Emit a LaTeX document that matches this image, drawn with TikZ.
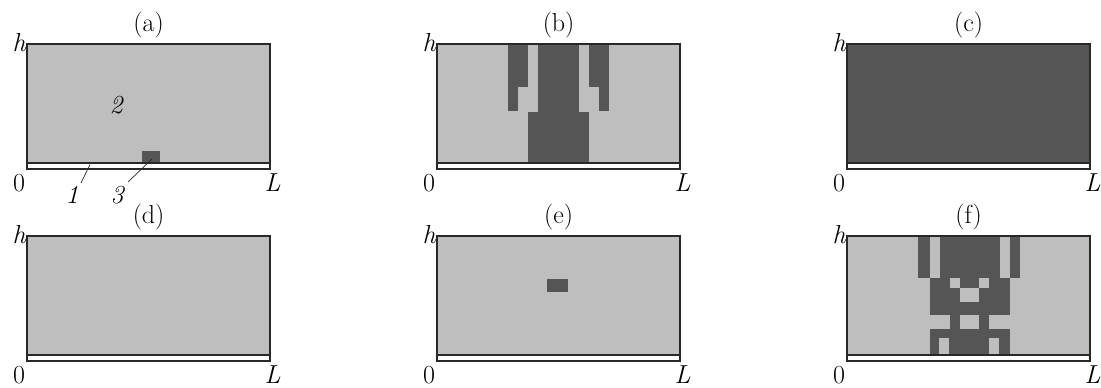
\documentclass[tikz,border=0pt]{standalone}
\usepackage{fontspec}
\usepackage{tikz}
\definecolor{lg}{RGB}{190,190,190}
\definecolor{dg}{RGB}{85,85,85}
\definecolor{fr}{RGB}{40,40,40}
\tikzset{
  frame/.style={draw=fr,line width=1.8pt},
  dark/.style={fill=dg},
  light/.style={fill=lg},
  lbl/.style={inner sep=0pt,anchor=base},
  leader/.style={draw=fr,line width=0.7pt}
}
\newcommand\PnlFrame[2]{%
  \fill[white] (0,118.7) rectangle (242.7,124.7);
  \draw[frame] (0,0) rectangle (242.7,124.7);
  \draw[frame] (0,118.7) -- (242.7,118.7);
  \node[lbl] (t#1) at (121.3,-13) {(#2)};
  \node[inner sep=0pt,anchor=base east] (h#1) at (-1.5,7) {\itshape h};
  \node[lbl] (z#1) at (-8.3,147.5) {0};
  \node[lbl] (L#1) at (245.2,147.5) {\itshape L};
}
\begin{document}
\begin{tikzpicture}[x=1pt,y=-1pt,font=\fontsize{26}{30}\selectfont]
\useasboundingbox (0,0) rectangle (1101,388);
% (a)
\begin{scope}[shift={(27.3,44)}]
  \fill[light] (0,0) rectangle (242.7,118.7);
  \fill[dark] (114.4,107) rectangle (132.7,118.7);
  \PnlFrame{a}{a}
  \node[lbl] (n2) at (88.7,69) {\itshape 2};
  \node[lbl] (n1) at (44.7,159) {\itshape 1};
  \node[lbl] (n3) at (89.7,159) {\itshape 3};
  \coordinate (e1) at (62.7,120.5);
  \coordinate (e3) at (124.7,115);
  \coordinate (s1) at (53.7,139);
  \coordinate (s3) at (100.7,138);
  \draw[leader] (s1) -- (e1);
  \draw[leader] (s3) -- (e3);
\end{scope}
% (b)
\begin{scope}[shift={(437.3,44)}]
  \fill[light] (0,0) rectangle (242.7,118.7);
  \fill[dark] (70.7,0) rectangle (90.9,43.3);
  \fill[dark] (70.7,43.3) rectangle (80.8,66.7);
  \fill[dark] (151.5,0) rectangle (171.7,43.3);
  \fill[dark] (161.6,43.3) rectangle (171.7,66.7);
  \fill[dark] (101,0) rectangle (141.4,67.7);
  \fill[dark] (90.9,67.7) rectangle (151.5,118.7);
  \PnlFrame{b}{b}
\end{scope}
% (c)
\begin{scope}[shift={(847.3,44)}]
  \fill[dark] (0,0) rectangle (242.7,118.7);
  \PnlFrame{c}{c}
\end{scope}
% (d)
\begin{scope}[shift={(27.3,236)}]
  \fill[light] (0,0) rectangle (242.7,118.7);
  \PnlFrame{d}{d}
\end{scope}
% (e)
\begin{scope}[shift={(437.3,236)}]
  \fill[light] (0,0) rectangle (242.7,118.7);
  \fill[dark] (110,42.7) rectangle (131,55.7);
  \PnlFrame{e}{e}
\end{scope}
% (f)
\begin{scope}[shift={(847.3,236)}]
  \fill[light] (0,0) rectangle (242.7,118.7);
  \fill[dark] (70.7,0) rectangle (82.7,42.3);
  \fill[dark] (92.7,0) rectangle (152.5,42.3);
  \fill[dark] (162.7,0) rectangle (173,42.3);
  \fill[dark] (82.7,42.3) rectangle (162.7,79);
  \fill[light] (102.2,42.3) rectangle (112.7,52.3);
  \fill[light] (131.5,42.3) rectangle (142,52.3);
  \fill[light] (112.7,52.3) rectangle (132,65.7);
  \fill[dark] (102.7,79) rectangle (142,93.3);
  \fill[light] (112.7,79) rectangle (132,93.3);
  \fill[dark] (82.7,93.3) rectangle (162.7,118.7);
  \fill[light] (92,102.3) rectangle (102,118.7);
  \fill[light] (142,102.3) rectangle (152,118.7);
  \PnlFrame{f}{f}
\end{scope}
\end{tikzpicture}
\end{document}
